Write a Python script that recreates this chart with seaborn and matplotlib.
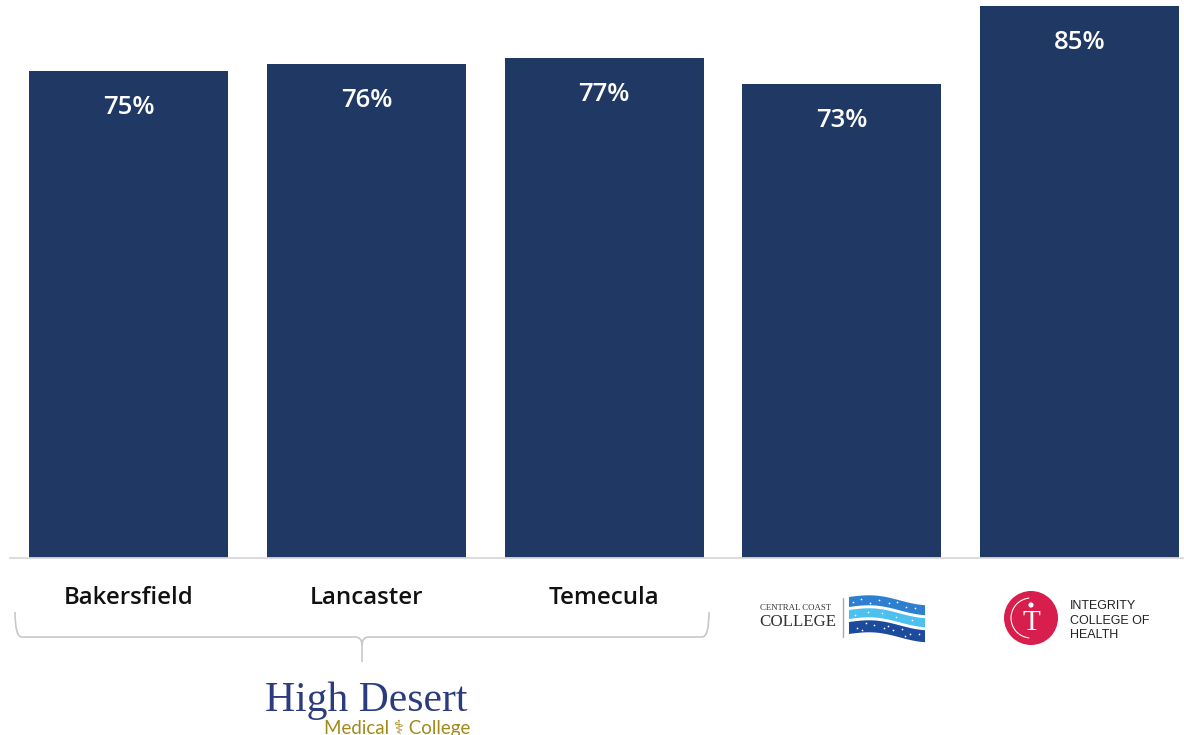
import numpy as np
import matplotlib
matplotlib.use("Agg")
import matplotlib.pyplot as plt
from matplotlib.patches import Circle, Arc, Polygon
from matplotlib.path import Path
from matplotlib.patches import PathPatch
import seaborn as sns

# ---- data ----
categories = ["Bakersfield", "Lancaster", "Temecula",
              "Central Coast College", "Integrity College of Health"]
values = [75, 76, 77, 73, 85]
tick_labels = ["Bakersfield", "Lancaster", "Temecula", "", ""]
group_label = "High Desert"
group_sub = "Medical \u2695 College"

BAR = "#203864"

sns.set_theme(style="white")
plt.rcParams["font.family"] = ["Open Sans", "DejaVu Sans"]

W, H = 1184, 735
fig = plt.figure(figsize=(W / 100, H / 100), dpi=100)
ax = fig.add_axes([10 / W, 177 / H, 1174 / W, 558 / H])

sns.barplot(x=categories, y=values, color=BAR, saturation=1, width=0.838,
            ax=ax, zorder=2, linewidth=0, edgecolor=BAR)
ax.set_xlim(-0.5, 4.44)
ax.set_ylim(0, 85.93)
for s in ["top", "left", "right"]:
    ax.spines[s].set_visible(False)
ax.spines["bottom"].set_color("#d9d9d9")
ax.spines["bottom"].set_linewidth(1.3)
ax.set_yticks([])
ax.set_xticks(range(len(categories)))
ax.set_xticklabels(tick_labels, fontsize=17.3, fontweight="semibold", color="#111111")
ax.tick_params(axis="x", length=0, pad=20)
ax.set_xlabel("")
ax.set_ylabel("")

for i, v in enumerate(values):
    ax.text(i, v - 5.6, f"{v}%", ha="center", va="center", color="white",
            fontsize=18.5, fontweight="semibold")

# ---- decoration overlay in pixel coordinates ----
ov = fig.add_axes([0, 0, 1, 1], zorder=5)
ov.set_xlim(0, W)
ov.set_ylim(H, 0)
ov.axis("off")
ov.patch.set_alpha(0)

# brace under first three categories
bc = "#c8c8c8"
verts = [(15, 612), (15, 637), (22, 637), (355, 637), (362, 637), (362, 645), (362, 662),
         (362, 645), (362, 637), (369, 637), (702, 637), (709, 637), (709, 612)]
codes = [Path.MOVETO, Path.CURVE3, Path.CURVE3, Path.LINETO, Path.CURVE3, Path.CURVE3,
         Path.LINETO, Path.MOVETO, Path.CURVE3, Path.CURVE3, Path.LINETO, Path.CURVE3, Path.CURVE3]
ov.add_patch(PathPatch(Path(verts, codes), fill=False, ec=bc, lw=1.2))

# High Desert Medical College
ov.text(366, 711, group_label, ha="center", va="baseline", fontsize=30,
        color="#2b3c7e", family=["Liberation Serif"])
ov.text(470, 734, group_sub, ha="right", va="baseline", fontsize=13.5,
        color="#a08a1c", family=["Lato", "DejaVu Sans"])

# Central Coast College logo
ov.text(760, 610, "CENTRAL COAST", ha="left", va="baseline", fontsize=6.3,
        color="#333333", family=["Liberation Serif"])
ov.text(759, 626, "COLLEGE", ha="left", va="baseline", fontsize=12.2,
        color="#333333", family=["Liberation Serif"])
ov.plot([843, 843], [598, 637], color="#aaaaaa", lw=1)
xs = np.linspace(849, 925, 80)
t = (xs - 849) / 76
wave = -3.2 * np.sin(2 * np.pi * 0.75 * t) + 5 * t
bands = [(602, 10, "#2f7fd0"), (614.5, 9, "#4cc0ee"), (628, 12, "#1c4a9c")]
for yc, h, col in bands:
    top = yc + wave - h / 2
    bot = yc + wave + h / 2
    poly = np.column_stack([np.concatenate([xs, xs[::-1]]),
                            np.concatenate([top, bot[::-1]])])
    ov.add_patch(Polygon(poly, closed=True, fc=col, ec="none"))
dots_x = [853, 861, 870, 879, 889, 897, 906, 915, 857, 874, 893, 910, 866, 884, 902, 919,
          855, 868, 882, 896, 912, 862, 888, 905]
dots_y = [602, 599, 603, 600, 603, 602, 607, 608, 628, 625, 630, 634, 623, 628, 629, 634,
          615, 612, 613, 617, 620, 630, 626, 636]
ov.scatter(dots_x, dots_y, s=1.5, color="white", zorder=6, linewidths=0)

# Integrity College of Health logo
ov.add_patch(Circle((1031, 618), 27, fc="#d81e4c", ec="none"))
ov.add_patch(Arc((1031, 618), 40, 40, theta1=95, theta2=265, ec="white", lw=0.8))
ov.add_patch(Circle((1031, 605), 2.6, fc="white", ec="none"))
ov.text(1031, 630, "T", ha="center", va="baseline", fontsize=21, color="white",
        family=["Liberation Serif"])
for k, line in enumerate(["INTEGRITY", "COLLEGE OF", "HEALTH"]):
    ov.text(1070, 609 + k * 14.5, line, ha="left", va="baseline", fontsize=9,
            color="#222222", family=["Liberation Sans"])

fig.savefig("out.png", dpi=100)
